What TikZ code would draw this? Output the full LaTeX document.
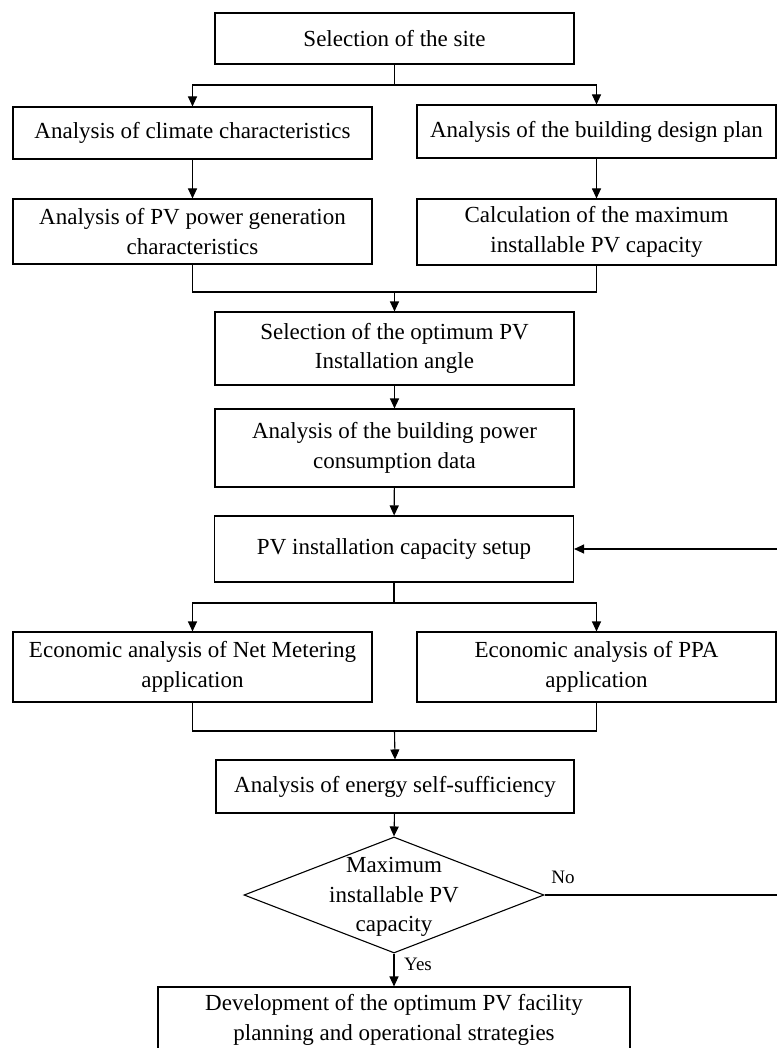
\documentclass[tikz,border=0pt]{standalone}
\usepackage{fontspec}
\setmainfont{Liberation Serif}
\usetikzlibrary{arrows.meta,shapes.geometric}
\begin{document}
\begin{tikzpicture}[x=1pt,y=-1pt,
  every node/.style={font=\fontsize{23}{29.5}\selectfont},
  box/.style={draw,line width=1.1pt,rectangle,inner sep=0pt,align=center},
  mid/.style={box,minimum width=359pt},
  side/.style={box,minimum width=359pt},
  line/.style={line width=1.1pt},
  arr/.style={line,-{Triangle[length=10pt,width=9pt]}},
  lab/.style={font=\fontsize{19}{22}\selectfont,inner sep=0pt}]
\useasboundingbox (0,0) rectangle (776,1048);
% nodes
\node[mid,minimum height=51pt] (n1) at (394.5,38.5) {Selection of the site};
\node[side,minimum height=52pt] (l1) at (192.5,133) {Analysis of climate characteristics};
\node[side,minimum height=53pt] (r1) at (596.5,131.5) {Analysis of the building design plan};
\node[side,minimum height=65pt] (l2) at (192.5,231.5) {Analysis of PV power generation\\characteristics};
\node[side,minimum height=66pt] (r2) at (596.5,232) {Calculation of the maximum\\installable PV capacity};
\node[mid,minimum height=73pt] (n3) at (394.5,348.5) {Selection of the optimum PV\\Installation angle};
\node[mid,minimum height=78pt] (n4) at (394.5,448) {Analysis of the building power\\consumption data};
\node[mid,minimum height=66pt] (n5) at (394,549) {PV installation capacity setup};
\node[side,minimum height=70pt] (l3) at (192.5,667) {Economic analysis of Net Metering\\application};
\node[side,minimum height=70pt] (r3) at (596.5,667) {Economic analysis of PPA\\application};
\node[mid,minimum height=53pt,minimum width=358pt] (n6) at (395,786.5) {Analysis of energy self-sufficiency};
\node[diamond,draw,line width=1.1pt,inner sep=0pt,minimum width=300pt,minimum height=116pt] (d) at (394,895) {};
\node[align=center,inner sep=0pt] (dt) at (394,897) {Maximum\\installable PV\\capacity};
\node[box,minimum width=472pt,minimum height=66pt] (f) at (394,1020) {Development of the optimum PV facility\\planning and operational strategies};
% junctions
\coordinate (j1) at (394.5,85);
\coordinate (j2) at (394.5,292);
\coordinate (j3) at (394,603);
\coordinate (j4) at (394.5,731);
\coordinate (fb) at (778,895);
% connectors
\draw[line] (n1.south) -- (j1);
\draw[arr] (j1) -| (l1.north);
\draw[arr] (j1) -| (r1.north);
\draw[arr] (l1) -- (l2);
\draw[arr] (r1) -- (r2);
\draw[line] (l2.south) |- (j2) -| (r2.south);
\draw[arr] (j2) -- (n3.north);
\draw[arr] (n3) -- (n4);
\draw[arr] (n4) -- (n5);
\draw[line] (n5.south) -- (j3);
\draw[arr] (j3) -| (l3.north);
\draw[arr] (j3) -| (r3.north);
\draw[line] (l3.south) |- (j4) -| (r3.south);
\draw[arr] (j4) -- (n6.north);
\draw[arr] (n6) -- (d.north);
\draw[arr] (d.south) -- (f.north);
\draw[arr] (d.east) -- (fb) |- (n5.east);
% labels
\node[lab] (no) at (563,877) {No};
\node[lab] (yes) at (418,964) {Yes};
\end{tikzpicture}
\end{document}
